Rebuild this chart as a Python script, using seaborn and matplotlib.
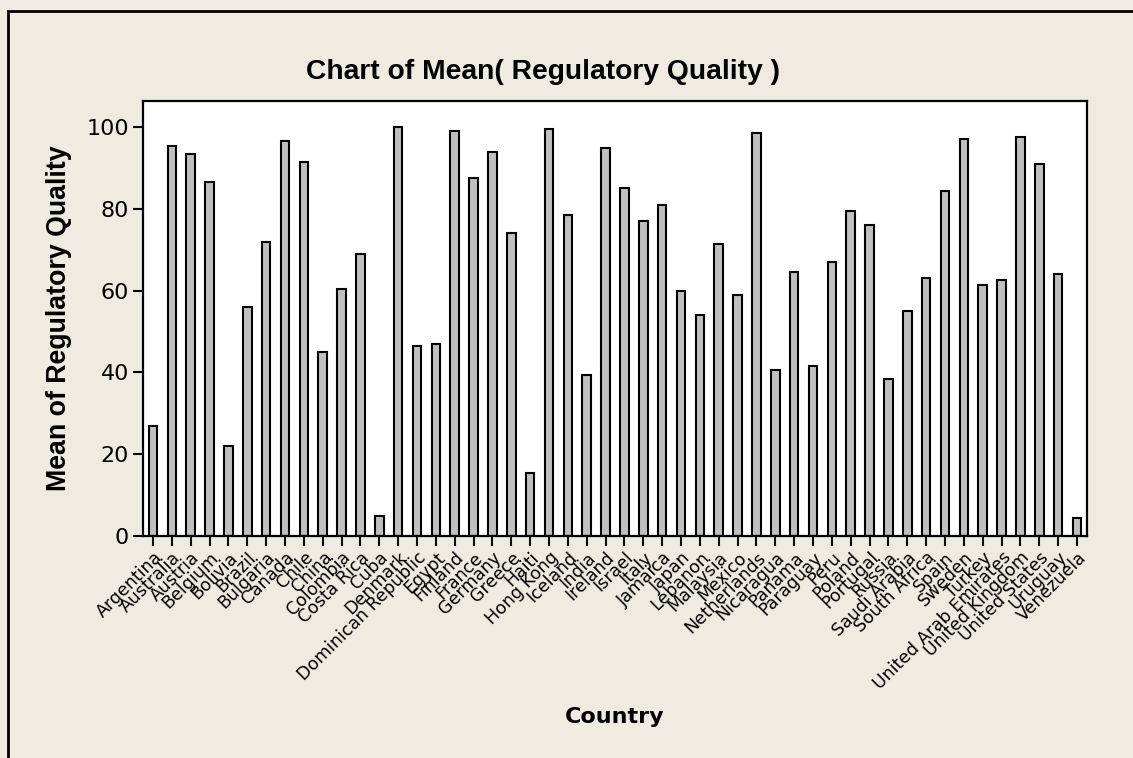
import matplotlib
matplotlib.use("Agg")
import matplotlib.pyplot as plt
from matplotlib.patches import Rectangle
import seaborn as sns

countries = [
    "Argentina", "Australia", "Austria", "Belgium", "Bolivia", "Brazil", "Bulgaria",
    "Canada", "Chile", "China", "Colombia", "Costa Rica", "Cuba", "Denmark",
    "Dominican Republic", "Egypt", "Finland", "France", "Germany", "Greece", "Haiti",
    "Hong Kong", "Iceland", "India", "Ireland", "Israel", "Italy", "Jamaica", "Japan",
    "Lebanon", "Malaysia", "Mexico", "Netherlands", "Nicaragua", "Panama", "Paraguay",
    "Peru", "Poland", "Portugal", "Russia", "Saudi Arabia", "South Africa", "Spain",
    "Sweden", "Turkey", "United Arab Emirates", "United Kingdom", "United States",
    "Uruguay", "Venezuela",
]
reg_quality = [
    27.0, 95.5, 93.5, 86.5, 22.0, 56.0, 72.0,
    96.5, 91.5, 45.0, 60.5, 69.0, 5.0, 100.0,
    46.5, 47.0, 99.0, 87.5, 94.0, 74.0, 15.5,
    99.5, 78.5, 39.5, 95.0, 85.0, 77.0, 81.0, 60.0,
    54.0, 71.5, 59.0, 98.5, 40.5, 64.5, 41.5,
    67.0, 79.5, 76.0, 38.5, 55.0, 63.0, 84.5,
    97.0, 61.5, 62.5, 97.5, 91.0,
    64.0, 4.5,
]
y_ticks = [0, 20, 40, 60, 80, 100]

sns.set_theme(style="ticks")
plt.rcParams["font.family"] = ["DejaVu Sans"]
plt.rcParams["text.color"] = "black"
plt.rcParams["axes.labelcolor"] = "black"
plt.rcParams["xtick.color"] = "black"
plt.rcParams["ytick.color"] = "black"

bg = "#EFEBE0"
fig = plt.figure(figsize=(11.33, 7.58), dpi=100, facecolor=bg)
ax = fig.add_axes([143 / 1133, 1 - 536 / 758, (1087 - 143) / 1133, (536 - 101) / 758])
ax.set_facecolor("white")

sns.barplot(x=countries, y=reg_quality, color="#C0C0C0", edgecolor="black",
            linewidth=1.5, width=0.45, errorbar=None, saturation=1, ax=ax)

ax.set_xlim(-0.53, len(countries) - 0.47)
ax.set_ylim(0, 106.4)
ax.set_yticks(y_ticks)
ax.tick_params(axis="y", labelsize=16, length=7, width=1.5, pad=3)
ax.tick_params(axis="x", labelsize=12.5, length=7, width=1.5, pad=2)
ax.set_xticks(range(len(countries)))
ax.set_xticklabels(countries, rotation=45, ha="right", rotation_mode="anchor")
for s in ax.spines.values():
    s.set_linewidth(1.6)
    s.set_color("black")

ax.set_xlabel("Country", fontsize=16, fontweight="bold")
ax.set_ylabel("Mean of Regulatory Quality", fontsize=19.3, fontweight="bold",
              family="Liberation Sans")
ax.xaxis.set_label_coords(0.5, -0.393)
ax.yaxis.set_label_coords(-0.075, 0.5)

fig.text(543 / 1133, 1 - 72 / 758, "Chart of Mean( Regulatory Quality )", fontsize=20.3,
         fontweight="bold", family="Liberation Sans", ha="center", va="center")

# outer frame, cut off at the right and bottom edges
fig.add_artist(Rectangle((8 / 1133, -0.2), 1.5, 1.2 - 11 / 758, transform=fig.transFigure,
                         fill=False, edgecolor="black", linewidth=2))

fig.savefig("out.png", dpi=100, facecolor=bg)
